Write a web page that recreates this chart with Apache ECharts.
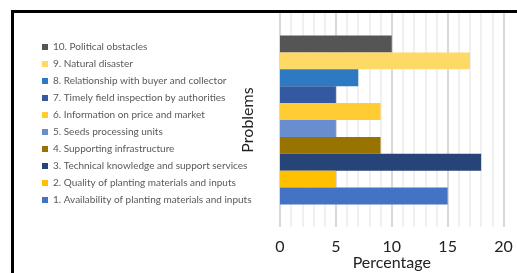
<!DOCTYPE html>
<html>
<head>
<meta charset="utf-8">
<script src="https://cdn.jsdelivr.net/npm/echarts@6/dist/echarts.min.js"></script>
<style>
html,body{margin:0;padding:0;background:#fff;}
#box{width:517px;height:273px;}
</style>
</head>
<body>
<div id="box"></div>
<script>
var problems=[
  '1. Availability of planting materials and inputs',
  '2. Quality of planting materials and inputs',
  '3. Technical knowledge and support services',
  '4. Supporting infrastructure',
  '5. Seeds processing units',
  '6. Information on price and market',
  '7. Timely field inspection by authorities',
  '8. Relationship with buyer and collector',
  '9. Natural disaster',
  '10. Political obstacles'
];
var percent=[15,5,18,9,5,9,5,7,17,10];
var colors=['#4472C4','#FFC000','#264478','#997300','#698ED0','#FFCC33','#335AA1','#2E7AC2','#FFD966','#555555'];
var xTicks=[0,5,10,15,20];

// first series is drawn on top, so go from 10 down to 1
var series=[];
for(var i=problems.length-1;i>=0;i--){
  series.push({
    name:problems[i],
    type:'bar',
    data:[percent[i]],
    itemStyle:{color:colors[i]},
    barGap:'0%',
    barCategoryGap:'21%'
  });
}

var mychart=echarts.init(document.getElementById('box'));
mychart.setOption({
  animation:false,
  textStyle:{fontFamily:'Lato'},
  graphic:[{
    type:'rect',
    shape:{x:12.5,y:11.5,width:700,height:500},
    style:{fill:'none',stroke:'#000',lineWidth:3},
    z:100
  }],
  legend:{
    orient:'vertical',
    left:37,
    top:36,
    icon:'rect',
    itemWidth:6,
    itemHeight:6,
    itemGap:5,
    data:problems.slice().reverse(),
    textStyle:{fontSize:10,lineHeight:12,color:'#595959',fontFamily:'Lato'}
  },
  grid:{left:280,right:13.5,top:13,bottom:46,outerBoundsMode:'none'},
  xAxis:{
    type:'value',
    min:xTicks[0],
    max:xTicks[xTicks.length-1],
    interval:5,
    name:'Percentage',
    nameLocation:'middle',
    nameGap:28,
    nameMoveOverlap:false,
    nameTextStyle:{fontSize:16,color:'#222',fontFamily:'Lato'},
    axisLine:{show:false},
    axisTick:{show:false},
    axisLabel:{fontSize:16,color:'#222',margin:12,fontFamily:'Lato'},
    splitLine:{show:true,lineStyle:{color:'#d9d9d9',width:2}},
    minorTick:{show:false,splitNumber:5},
    minorSplitLine:{show:true,lineStyle:{color:'#f0f0f0',width:2}}
  },
  yAxis:{
    type:'category',
    data:[''],
    name:'Problems',
    nameLocation:'middle',
    nameRotate:90,
    nameGap:24,
    nameMoveOverlap:false,
    nameTextStyle:{fontSize:16,color:'#222',fontFamily:'Lato'},
    axisLine:{show:false},
    axisTick:{show:false},
    axisLabel:{show:false}
  },
  series:series
});
</script>
</body>
</html>
